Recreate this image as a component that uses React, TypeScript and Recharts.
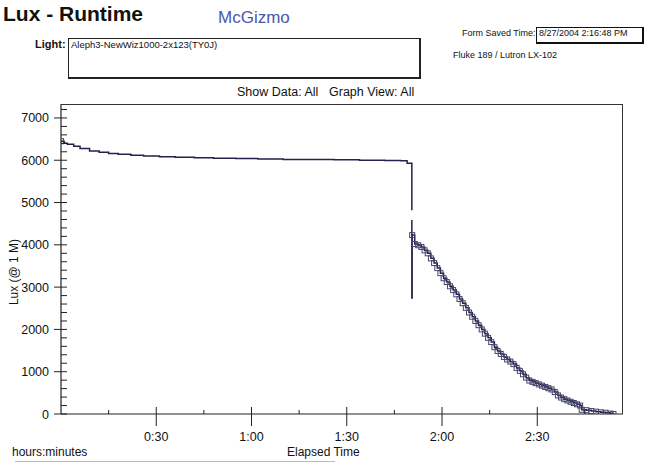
import React from 'react';
import { LineChart, Line, XAxis, YAxis } from 'recharts';

// ---- data (elapsed minutes, lux @ 1 m) ----
const timeMin: number[] = [
  0, 1, 2, 4, 6, 9, 12, 15, 18, 22, 26, 31, 36, 42, 48, 55, 62, 70, 78, 86, 94, 102, 107, 109, 110.4,
  110.5, 110.5, 110.5, 110.5,
  110.6, 111.4, 112.5, 113.5, 114.5, 115.5, 116.5, 117.5, 118.5, 119.5, 120.5, 121.5, 122.5, 123.5,
  124.5, 125.5, 126.5, 127.5, 128.5, 129.5, 130.5, 131.5, 132.5, 133.5, 134.5, 135.5, 136.5, 137.5,
  138.5, 139.5, 140.5, 141.5, 142.5, 143.5, 144.5, 145.5, 146.5, 147.5, 148.5, 149.5, 150.5, 151.5,
  152.5, 153.5, 154.5, 155.5, 156.5, 157.5, 158.5, 159.5, 160.5, 161.5, 162.5, 163.5, 164, 165.5,
  167, 168.5, 170, 171.5, 173, 174,
];
const luxValues: (number | null)[] = [
  6450, 6400, 6380, 6330, 6280, 6220, 6190, 6160, 6140, 6120, 6100, 6080, 6070, 6060, 6050, 6040, 6030, 6020, 6015, 6010, 6000, 5995, 5990, 5930, 5930,
  4820, null, 4590, 2740,
  4230, 4020, 3990, 3950, 3870, 3800, 3680, 3570, 3450, 3330, 3210, 3120, 3020, 2930,
  2830, 2720, 2620, 2510, 2400, 2300, 2200, 2100, 2000, 1900, 1800, 1700, 1580, 1490,
  1420, 1350, 1290, 1240, 1180, 1090, 1020, 940, 860, 790, 760, 730, 700, 670,
  640, 610, 580, 520, 440, 390, 350, 320, 290, 260, 230, 200, 100, 90,
  70, 55, 40, 30, 10, 0,
];

const xMajorTicks = [30, 60, 90, 120, 150];
const xMajorLabels = ['0:30', '1:00', '1:30', '2:00', '2:30'];
const xMinorTicks = [15, 45, 75, 105, 135, 165];
const yMajorTicks = [0, 1000, 2000, 3000, 4000, 5000, 6000, 7000];
const yMinorTicks = [
  200, 400, 600, 800, 1200, 1400, 1600, 1800, 2200, 2400, 2600, 2800, 3200, 3400, 3600, 3800,
  4200, 4400, 4600, 4800, 5200, 5400, 5600, 5800, 6200, 6400, 6600, 6800, 7200,
];

const data = timeMin.map((t, i) => ({ t, lux: luxValues[i] }));
const xTicks = [...xMajorTicks, ...xMinorTicks].sort((a, b) => a - b);
const yTicks = [...yMajorTicks, ...yMinorTicks].sort((a, b) => a - b);

// ---- layout constants ----
const W = 649;
const H = 463;
const PLOT_LEFT = 61;
const PLOT_TOP = 104;
const PLOT_RIGHT = 623;
const X_AXIS_H = 49;
const PLOT_BOTTOM = H - X_AXIS_H;
const FONT = "'Liberation Sans', Arial, Helvetica, sans-serif";
const AXIS = '#222';
const LINE = '#22224a';

const XTick = (props: any) => {
  const { x, payload } = props;
  const v = payload.value;
  const mi = xMajorTicks.indexOf(v);
  const major = mi >= 0;
  return (
    <g>
      <line
        x1={x}
        x2={x}
        y1={major ? PLOT_BOTTOM - 7 : PLOT_BOTTOM - 4}
        y2={major ? PLOT_BOTTOM + 12 : PLOT_BOTTOM}
        stroke={AXIS}
        strokeWidth={1}
      />
      {major && (
        <text x={x} y={PLOT_BOTTOM + 27} textAnchor="middle" fontSize={12.5} fill="#111" fontFamily={FONT}>
          {xMajorLabels[mi]}
        </text>
      )}
    </g>
  );
};

const YTick = (props: any) => {
  const { y, payload } = props;
  const v = payload.value;
  const major = yMajorTicks.indexOf(v) >= 0;
  return (
    <g>
      <line x1={major ? PLOT_LEFT - 7 : PLOT_LEFT} x2={PLOT_LEFT + 6} y1={y} y2={y} stroke={AXIS} strokeWidth={1} />
      {major && (
        <text x={PLOT_LEFT - 12} y={y + 4.5} textAnchor="end" fontSize={12.5} fill="#111" fontFamily={FONT}>
          {v}
        </text>
      )}
    </g>
  );
};

const renderDot = (props: any) => {
  const { cx, cy, payload, index } = props;
  if (cx == null || cy == null || payload.lux == null) return <g key={`d${index}`} />;
  if (payload.t === 0 || payload.t > 110.55) {
    return (
      <rect
        key={`d${index}`}
        x={cx - 2.5}
        y={cy - 2.5}
        width={5}
        height={5}
        fill="none"
        stroke="#45456c"
        strokeWidth={1}
      />
    );
  }
  return <g key={`d${index}`} />;
};

const abs = (s: React.CSSProperties): React.CSSProperties => ({ position: 'absolute', whiteSpace: 'nowrap', lineHeight: 1, margin: 0, ...s });

export default function App() {
  return (
    <div style={{ position: 'absolute', left: 0, top: 0, width: W, height: H, background: '#fff', fontFamily: FONT, color: '#111', overflow: 'hidden' }}>
      <LineChart width={W} height={H} data={data} margin={{ top: PLOT_TOP, right: W - PLOT_RIGHT, bottom: 0, left: 0 }}>
        <XAxis
          dataKey="t"
          type="number"
          domain={[0, 177]}
          ticks={xTicks}
          interval={0}
          tick={<XTick />}
          tickLine={false}
          axisLine={{ stroke: AXIS, strokeWidth: 1.2 }}
          height={X_AXIS_H}
          allowDataOverflow
        />
        <YAxis
          type="number"
          domain={[0, 7330]}
          ticks={yTicks}
          interval={0}
          tick={<YTick />}
          tickLine={false}
          axisLine={{ stroke: AXIS, strokeWidth: 1.2 }}
          width={PLOT_LEFT}
          allowDataOverflow
        />
        <Line
          type="stepAfter"
          dataKey="lux"
          stroke={LINE}
          strokeWidth={1.5}
          dot={renderDot}
          activeDot={false}
          connectNulls={false}
          isAnimationActive={false}
        />
        <text
          x={18}
          y={272}
          transform="rotate(-90 18 272)"
          textAnchor="middle"
          fontSize={12}
          fill="#111"
          fontFamily={FONT}
        >
          Lux  (@ 1 M)
        </text>
      </LineChart>

      {/* plot frame top/right */}
      <div
        style={{
          position: 'absolute',
          left: PLOT_LEFT,
          top: PLOT_TOP,
          width: PLOT_RIGHT - PLOT_LEFT,
          height: PLOT_BOTTOM - PLOT_TOP,
          borderTop: '1px solid #333',
          borderRight: '1px solid #333',
          boxSizing: 'border-box',
          pointerEvents: 'none',
        }}
      />

      <div style={abs({ left: 3, top: 3.2, fontSize: 21, fontWeight: 'bold' })}>Lux - Runtime</div>
      <div style={abs({ left: 218, top: 8.6, fontSize: 17, color: '#4a58a6' })}>McGizmo</div>

      <div style={abs({ left: 35, top: 38.7, fontSize: 11, fontWeight: 'bold' })}>Light:</div>
      <div
        style={{
          position: 'absolute',
          left: 68,
          top: 38,
          width: 421 - 68,
          height: 79 - 38,
          border: '1px solid #222',
          borderRightWidth: 2,
          borderBottomWidth: 2,
          boxSizing: 'border-box',
        }}
      />
      <div style={abs({ left: 71, top: 40.2, fontSize: 9.5 })}>Aleph3-NewWiz1000-2x123(TY0J)</div>

      <div style={abs({ left: 462, top: 29.4, fontSize: 9 })}>Form Saved Time:</div>
      <div
        style={{
          position: 'absolute',
          left: 536,
          top: 27,
          width: 644 - 536,
          height: 44 - 27,
          border: '1px solid #111',
          borderRightWidth: 2,
          borderBottomWidth: 2,
          boxSizing: 'border-box',
        }}
      />
      <div style={abs({ left: 539, top: 29.4, fontSize: 9 })}>8/27/2004 2:16:48 PM</div>
      <div style={abs({ left: 453, top: 51.4, fontSize: 9 })}>Fluke 189 / Lutron LX-102</div>

      <div style={abs({ left: 237, top: 86.4, fontSize: 12.5 })}>Show Data: All</div>
      <div style={abs({ left: 329, top: 86.4, fontSize: 12.5 })}>Graph View: All</div>

      <div style={abs({ left: 12, top: 445.8, fontSize: 12 })}>hours:minutes</div>
      <div style={abs({ left: 287, top: 445.8, fontSize: 12 })}>Elapsed Time</div>
      <div style={{ position: 'absolute', left: 15, top: 461, width: 320, height: 1, background: '#bbb' }} />
    </div>
  );
}
